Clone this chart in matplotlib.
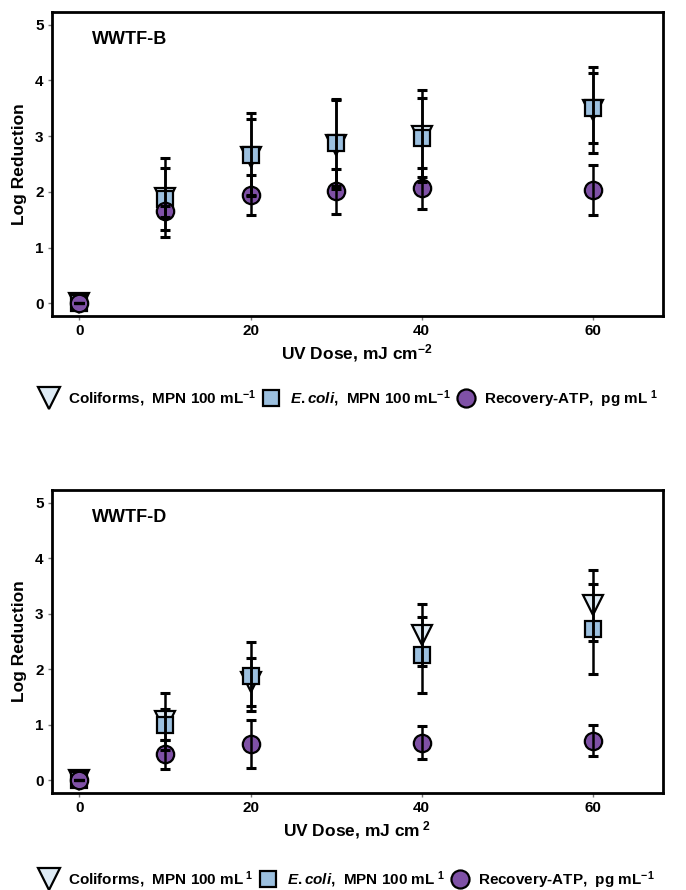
import matplotlib.pyplot as plt
from matplotlib.lines import Line2D

# UV dose points (mJ/cm2)
dose_b = [0, 10, 20, 30, 40, 60]
dose_d = [0, 10, 20, 40, 60]

# WWTF-B log reductions and error bars
coli_b = [0, 1.89, 2.63, 2.85, 3.00, 3.47]
coli_b_err = [0, 0.71, 0.68, 0.80, 0.83, 0.78]
ecoli_b = [0, 1.87, 2.67, 2.88, 2.97, 3.51]
ecoli_b_err = [0, 0.56, 0.75, 0.78, 0.71, 0.63]
atp_b = [0, 1.65, 1.95, 2.01, 2.06, 2.03]
atp_b_err = [0, 0.10, 0.36, 0.40, 0.37, 0.45]

# WWTF-D
coli_d = [0, 1.06, 1.77, 2.62, 3.15]
coli_d_err = [0, 0.52, 0.43, 0.56, 0.64]
ecoli_d = [0, 1.00, 1.87, 2.26, 2.72]
ecoli_d_err = [0, 0.28, 0.62, 0.68, 0.81]
atp_d = [0, 0.47, 0.65, 0.68, 0.71]
atp_d_err = [0, 0.26, 0.43, 0.30, 0.28]

xticks = [0, 20, 40, 60]
yticks = [0, 1, 2, 3, 4, 5]

c_coli = '#deebf5'
c_ecoli = '#9cc0df'
c_atp = '#7f51a6'

plt.rcParams['font.family'] = ['Liberation Sans', 'DejaVu Sans']
plt.rcParams['font.weight'] = 'bold'
plt.rcParams['mathtext.fontset'] = 'custom'
plt.rcParams['mathtext.rm'] = 'Liberation Sans'
plt.rcParams['mathtext.it'] = 'Liberation Sans:italic:bold'
plt.rcParams['mathtext.bf'] = 'Liberation Sans:bold'

W, H = 686, 890
fig = plt.figure(figsize=(W / 100, H / 100), dpi=100)


def panel(top, bottom, dose, series, name):
    ax = fig.add_axes([52 / W, (H - bottom) / H, 611 / W, (bottom - top) / H])
    styles = [('v', 15, c_coli), ('s', 11, c_ecoli), ('o', 12.5, c_atp)]
    for (y, err), (m, ms, col) in zip(series, styles):
        ax.plot(dose, y, ls='none', marker=m, markersize=ms, markerfacecolor=col,
                markeredgecolor='black', markeredgewidth=1.6, zorder=3)
    for y, err in series:
        ax.errorbar(dose, y, yerr=err, fmt='none', ecolor='black', elinewidth=1.8,
                    capsize=3.5, capthick=2.2, zorder=4)
    ax.set_xlim(-3.2, 68.2)
    ax.set_ylim(-0.23, 5.23)
    ax.set_xticks(xticks)
    ax.set_yticks(yticks)
    ax.tick_params(direction='out', length=3, width=1, color='#777777',
                   labelsize=11, pad=3)
    for lab in ax.get_xticklabels() + ax.get_yticklabels():
        lab.set_fontweight('bold')
    for sp in ax.spines.values():
        sp.set_linewidth(2)
    ax.text(0.066, 0.91, name, transform=ax.transAxes, fontsize=13,
            fontweight='bold', va='center', ha='left')
    fig.text(20 / W, 1 - (top + bottom) / 2 / H, 'Log Reduction', rotation=90,
             ha='center', va='center', fontsize=12.5, fontweight='bold')
    return ax


def legend(y, labels):
    handles = [
        Line2D([], [], ls='none', marker='v', markersize=16, markerfacecolor=c_coli,
               markeredgecolor='black', markeredgewidth=1.6),
        Line2D([], [], ls='none', marker='s', markersize=11, markerfacecolor=c_ecoli,
               markeredgecolor='black', markeredgewidth=1.6),
        Line2D([], [], ls='none', marker='o', markersize=13, markerfacecolor=c_atp,
               markeredgecolor='black', markeredgewidth=1.6),
    ]
    fig.legend(handles, labels, loc='center left', bbox_to_anchor=(40 / W, 1 - y / H),
               ncol=3, frameon=False, handlelength=1.2, handletextpad=0.6,
               columnspacing=0.4, borderaxespad=0, borderpad=0,
               prop={'size': 11, 'weight': 'bold'})


panel(12, 316, dose_b, [(coli_b, coli_b_err), (ecoli_b, ecoli_b_err),
                        (atp_b, atp_b_err)], 'WWTF-B')
fig.text(357 / W, 1 - 353 / H, r'UV Dose, mJ cm$^{-2}$', ha='center', va='center',
         fontsize=12.5, fontweight='bold')
legend(399, [r'Coliforms,  MPN 100 mL$^{-1}$',
             r'$\it{E.coli}$,  MPN 100 mL$^{-1}$',
             r'Recovery-ATP,  pg mL$^{\ 1}$'])

panel(490, 793, dose_d, [(coli_d, coli_d_err), (ecoli_d, ecoli_d_err),
                         (atp_d, atp_d_err)], 'WWTF-D')
fig.text(357 / W, 1 - 830 / H, r'UV Dose, mJ cm$^{\ 2}$', ha='center', va='center',
         fontsize=12.5, fontweight='bold')
legend(880, [r'Coliforms,  MPN 100 mL$^{\ 1}$',
             r'$\it{E.coli}$,  MPN 100 mL$^{\ 1}$',
             r'Recovery-ATP,  pg mL$^{-1}$'])

fig.savefig('out.png', dpi=100)
